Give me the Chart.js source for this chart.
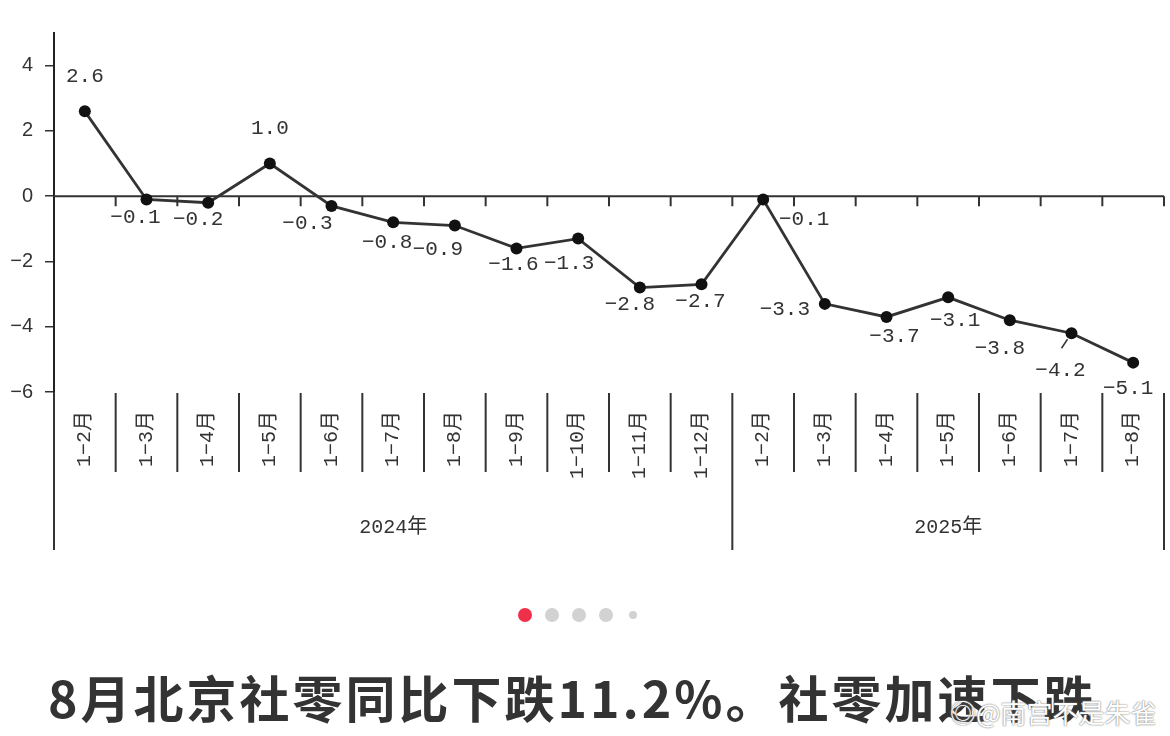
<!DOCTYPE html>
<html>
<head>
<meta charset="utf-8">
<script src="https://cdn.jsdelivr.net/npm/chart.js@4/dist/chart.umd.min.js"></script>
<style>
  body { margin: 0; background: #fff; width: 1170px; height: 736px; overflow: hidden; position: relative; }
  #wrap { position: absolute; left: 0; top: 0; width: 1170px; height: 570px; }
  .dots { position: absolute; top: 608px; left: 0; width: 1170px; }
  .dot { position: absolute; border-radius: 50%; background: #d2d2d2; }
  .title { position: absolute; left: 48px; top: 660px; font: bold 50px "Noto Sans CJK SC", sans-serif; letter-spacing: 3px; color: #333; white-space: nowrap; }
  .mark { position: absolute; left: 950px; top: 693px; font: 26px "Noto Sans CJK SC", sans-serif; color: #fff; white-space: nowrap;
          text-shadow: 0 0 2px #888, 0 0 1px #777; }
</style>
</head>
<body>
<div id="wrap"><canvas id="salesChart" width="1170" height="570"></canvas></div>
<div class="dots">
  <div class="dot" style="left:518px;top:0;width:14px;height:14px;background:#f0304a"></div>
  <div class="dot" style="left:545px;top:0;width:14px;height:14px"></div>
  <div class="dot" style="left:572px;top:0;width:14px;height:14px"></div>
  <div class="dot" style="left:599px;top:0;width:14px;height:14px"></div>
  <div class="dot" style="left:629px;top:3px;width:8px;height:8px"></div>
</div>
<div class="title">8月北京社零同比下跌11.2%。社零加速下跌</div>
<div class="mark">◎@南宫不是朱雀</div>
<script>
var periods = ['1−2月', '1−3月', '1−4月', '1−5月', '1−6月', '1−7月', '1−8月', '1−9月', '1−10月', '1−11月', '1−12月',
               '1−2月', '1−3月', '1−4月', '1−5月', '1−6月', '1−7月', '1−8月'];
var years = ['2024年', '2024年', '2024年', '2024年', '2024年', '2024年', '2024年', '2024年', '2024年', '2024年', '2024年',
             '2025年', '2025年', '2025年', '2025年', '2025年', '2025年', '2025年'];
var growth = [2.6, -0.1, -0.2, 1.0, -0.3, -0.8, -0.9, -1.6, -1.3, -2.8, -2.7,
              -0.1, -3.3, -3.7, -3.1, -3.8, -4.2, -5.1];
var yTicks = [-6, -4, -2, 0, 2, 4];

var ink = '#333';
var monoFont = '"Liberation Mono", "Noto Sans CJK SC", monospace';

var fmt = function(v) {
  return v.toFixed(1).replace('-', '−');
};

// where each value label sits relative to its point (dx, dy)
var labelOffsets = [[0, -35], [-11, 18], [-10, 17], [0, -35], [-24, 17], [-6, 20], [-17, 24], [-3, 16], [-9, 25], [-10, 17], [-1, 17],
                    [41, 20], [-40, 6], [8, 20], [7, 23], [-10, 28], [-11, 37], [-5, 26]];

var axisPlugin = {
  id: 'axisTable',
  beforeDatasetsDraw: function(chart) {
    var ctx = chart.ctx, x = chart.scales.x, y = chart.scales.y, area = chart.chartArea;
    var step = x.getPixelForValue(1) - x.getPixelForValue(0);
    var edge = function(i) { return x.getPixelForValue(i) - step / 2; };
    var y0 = y.getPixelForValue(0);
    var tableBottom = area.bottom + 158;

    ctx.save();
    ctx.strokeStyle = ink;
    ctx.lineWidth = 2;
    ctx.beginPath();
    ctx.moveTo(area.left, y0);
    ctx.lineTo(edge(periods.length), y0);
    for (var k = 1; k <= periods.length; k++) {
      ctx.moveTo(edge(k), y0);
      ctx.lineTo(edge(k), y0 + 10);
    }
    ctx.stroke();

    // category table under the plot
    ctx.beginPath();
    ctx.moveTo(area.left, area.bottom);
    ctx.lineTo(area.left, tableBottom);
    for (var j = 1; j <= periods.length; j++) {
      var full = j === periods.length || years[j] !== years[j - 1];
      ctx.moveTo(edge(j), area.bottom + 1);
      ctx.lineTo(edge(j), full ? tableBottom : area.bottom + 80);
    }
    ctx.stroke();

    ctx.fillStyle = ink;
    ctx.font = '20px ' + monoFont;
    ctx.textBaseline = 'middle';
    periods.forEach(function(p, i) {
      ctx.save();
      ctx.translate(x.getPixelForValue(i), area.bottom + 19);
      ctx.rotate(-Math.PI / 2);
      ctx.textAlign = 'right';
      ctx.fillText(p, 0, 0);
      ctx.restore();
    });

    var start = 0;
    for (var n = 1; n <= years.length; n++) {
      if (n === years.length || years[n] !== years[start]) {
        ctx.textAlign = 'center';
        ctx.fillText(years[start], (edge(start) + edge(n)) / 2, area.bottom + 136);
        start = n;
      }
    }
    ctx.restore();
  },
  afterDatasetsDraw: function(chart) {
    var ctx = chart.ctx, meta = chart.getDatasetMeta(0);
    ctx.save();
    ctx.fillStyle = ink;
    ctx.font = '21px ' + monoFont;
    ctx.textAlign = 'center';
    ctx.textBaseline = 'middle';
    meta.data.forEach(function(pt, i) {
      var off = labelOffsets[i];
      ctx.fillText(fmt(growth[i]), pt.x + off[0], pt.y + off[1]);
    });
    // small leader line at the -4.2 label
    var p = meta.data[16];
    ctx.strokeStyle = ink;
    ctx.lineWidth = 1.5;
    ctx.beginPath();
    ctx.moveTo(p.x - 10, p.y + 15);
    ctx.lineTo(p.x - 4, p.y + 6);
    ctx.stroke();
    ctx.restore();
  }
};

new Chart(document.getElementById('salesChart').getContext('2d'), {
  type: 'line',
  data: {
    labels: periods,
    datasets: [{
      data: growth,
      borderColor: ink,
      borderWidth: 2.8,
      pointRadius: 6,
      pointBackgroundColor: '#111',
      pointBorderWidth: 0,
      tension: 0
    }]
  },
  options: {
    responsive: false,
    animation: false,
    layout: { padding: { top: 33, right: 5, bottom: 178, left: 0 } },
    plugins: { legend: { display: false }, tooltip: { enabled: false } },
    scales: {
      x: { type: 'category', offset: true, display: false },
      y: {
        min: -6,
        max: 5,
        afterFit: function(scale) { scale.width = 54; },
        afterBuildTicks: function(scale) {
          scale.ticks = yTicks.map(function(v) { return { value: v }; });
        },
        border: { display: true, color: '#222', width: 2 },
        grid: { drawOnChartArea: false, drawTicks: true, tickLength: 9, color: ink, lineWidth: 1.5 },
        ticks: {
          padding: 12,
          color: ink,
          font: { family: '"Liberation Sans", sans-serif', size: 20 },
          callback: function(v) { return String(v).replace('-', '−'); }
        }
      }
    }
  },
  plugins: [axisPlugin]
});
</script>
</body>
</html>
